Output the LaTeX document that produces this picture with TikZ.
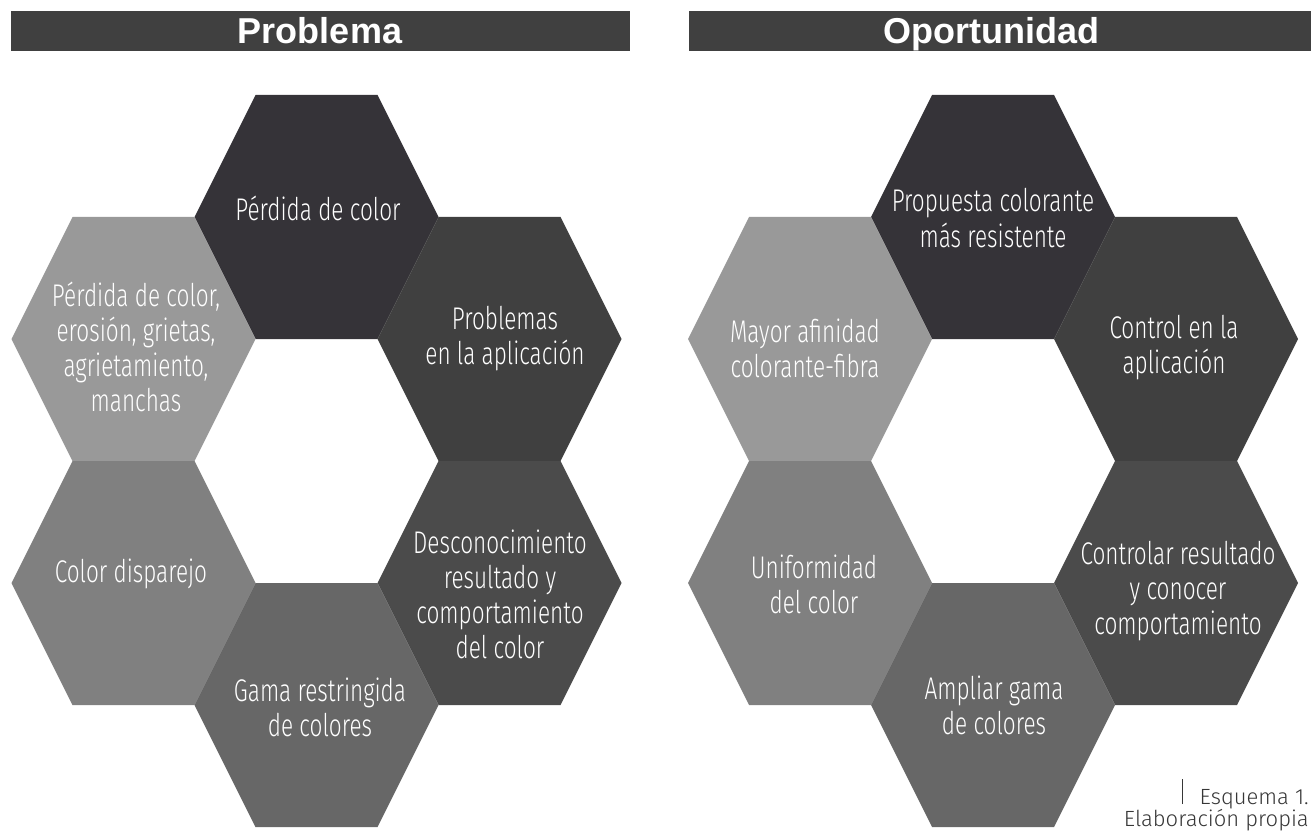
\documentclass[tikz,border=0pt]{standalone}
\usepackage{fontspec}
\setmainfont{Liberation Sans}
\IfFontExistsTF{Fira Sans Light}
    {\newfontfamily\hexfamily{Fira Sans Light}[FakeStretch=0.72]
     \newfontfamily\notefamily{Fira Sans Light}}
    {\newfontfamily\hexfamily{Fira Sans}[FakeStretch=0.72]
     \newfontfamily\notefamily{Fira Sans}}
\usepackage{tikz}
\usetikzlibrary{positioning}

\definecolor{barGray}{RGB}{64,64,64}
\definecolor{hexTop}{RGB}{53,51,56}
\definecolor{hexLight}{RGB}{153,153,153}
\definecolor{hexDark}{RGB}{64,64,64}
\definecolor{hexMid}{RGB}{128,128,128}
\definecolor{hexDeep}{RGB}{75,75,75}
\definecolor{hexLow}{RGB}{103,103,103}
\definecolor{noteGray}{RGB}{55,55,55}

\begin{document}
\begin{tikzpicture}[
    x=0.75pt, y=-0.75pt,
    hexlabel/.style=
        {text=white, align=center, inner sep=0pt,
         font=\hexfamily\fontsize{23.5}{26.3}\selectfont},
    header/.style=
        {text=white, anchor=base, font=\bfseries\fontsize{27}{32}\selectfont},
    note/.style=
        {text=noteGray, anchor=base east, inner sep=0pt,
         font=\notefamily\fontsize{16.5}{18}\selectfont},
    pics/hexcell/.style=
        {code={\fill[#1] (-122,0) -- (-61,-122) -- (61,-122) -- (122,0)
                 -- (61,122) -- (-61,122) -- cycle;}}]
    \useasboundingbox (0,0) rectangle (1311,831);

    % title bars
    \fill[barGray] (11,11) rectangle (630,51);
    \fill[barGray] (689,11) rectangle (1311,51);
    \node[header] (probTitle) at (320,44) {Problema};
    \node[header] (oporTitle) at (991,44) {Oportunidad};

    % two rings of six cells
    \foreach \cx in {316.5, 993} {
        \pic at (\cx,217) {hexcell=hexTop};
        \pic at (\cx-183,339) {hexcell=hexLight};
        \pic at (\cx+183,339) {hexcell=hexDark};
        \pic at (\cx-183,583) {hexcell=hexMid};
        \pic at (\cx+183,583) {hexcell=hexDeep};
        \pic at (\cx,705) {hexcell=hexLow};
    }

    % Problema
    \node[hexlabel] (lossTop) at (318,208) {Pérdida de color};
    \node[hexlabel] (wearL) at (136,347)
        {Pérdida de color,\\erosión, grietas,\\agrietamiento,\\manchas};
    \node[hexlabel] (applL) at (505,339) {Problemas\\en la aplicación};
    \node[hexlabel] (unevenL) at (131,574) {Color disparejo};
    \node[hexlabel] (unknownL) at (500,594)
        {Desconocimiento\\resultado y\\comportamiento\\del color};
    \node[hexlabel] (gamutL) at (320,707) {Gama restringida\\de colores};

    % Oportunidad
    \node[hexlabel] (proposeR) at (993,218)
        {Propuesta colorante\\más resistente};
    \node[hexlabel] (affinityR) at (805,348)
        {Mayor afinidad\\colorante-fibra};
    \node[hexlabel] (controlR) at (1174,348) {Control en la\\aplicación};
    \node[hexlabel] (uniformR) at (814,584) {Uniformidad\\del color};
    \node[hexlabel] (manageR) at (1178,591)
        {Controlar resultado\\y conocer\\comportamiento};
    \node[hexlabel] (widenR) at (994,705) {Ampliar gama\\de colores};

    % caption
    \node[note] (noteA) at (1309,804) {Esquema 1.};
    \node[note] (noteB) at (1309,826) {Elaboración propia};
    \draw[noteGray, line width=1.2pt]
        ([shift={(-17,0)}]noteA.base west) -- ++(0,-25);
\end{tikzpicture}
\end{document}
